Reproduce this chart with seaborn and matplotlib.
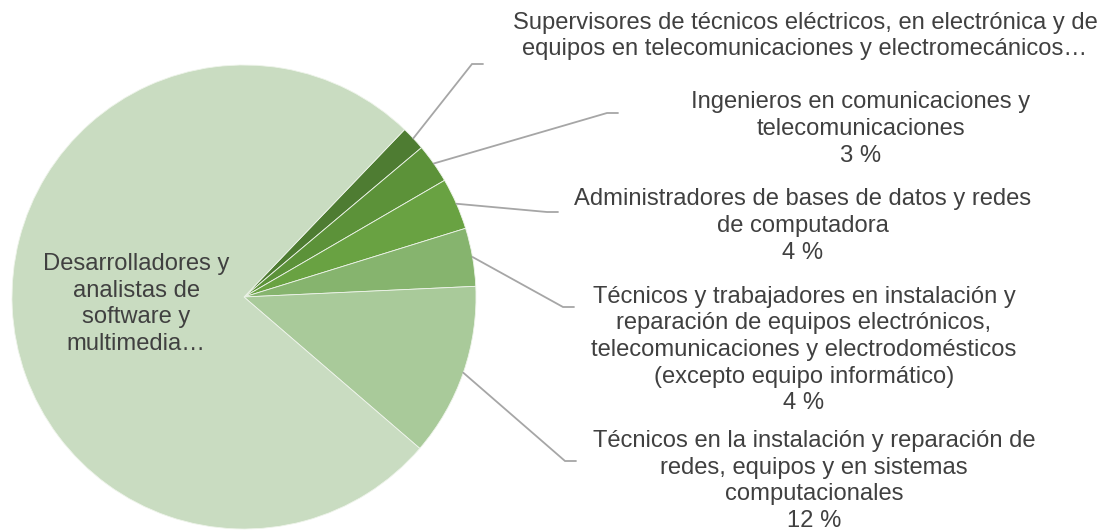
import numpy as np
import seaborn as sns
import matplotlib.pyplot as plt

# ================================
# Data
# ================================
categories = [
    "Supervisores de técnicos eléctricos, en electrónica y de\nequipos en telecomunicaciones y electromecánicos…",
    "Ingenieros en comunicaciones y\ntelecomunicaciones",
    "Administradores de bases de datos y redes\nde computadora",
    "Técnicos y trabajadores en instalación y\nreparación de equipos electrónicos,\ntelecomunicaciones y electrodomésticos\n(excepto equipo informático)",
    "Técnicos en la instalación y reparación de\nredes, equipos y en sistemas\ncomputacionales",
    "Desarrolladores y\nanalistas de\nsoftware y\nmultimedia…",
]
shares = [1.7, 2.75, 3.6, 4.05, 12.05, 75.85]
show_pct = [False, True, True, True, True, False]

colors = ["#4e7c32", "#5c9239", "#69a242", "#86b46e", "#a9ca9a", "#c9dcc1"]

# ================================
# Layout (pixel positions in the 1107x531 image)
# ================================
W, H = 1107, 531
CX, CY, R = 244, 297, 232          # pie centre and radius in pixels

# elbow of each leader line and the label centre, in pixels
elbows = [(472, 64), (607, 113), (547, 212), (563, 307), (565, 461), None]
label_xy = [(805, 36), (861, 129), (803, 226), (804, 350), (814, 481), (136, 304)]


def px(x, y):
    # pixel -> data units (pie radius = 1)
    return (x - CX) / R, (CY - y) / R


sns.set_theme(style="white")
plt.rcParams["font.family"] = ["Liberation Sans", "DejaVu Sans"]

fig = plt.figure(figsize=(W / 100, H / 100), dpi=100)
ax = fig.add_axes([0, 0, 1, 1])

wedges, _ = ax.pie(
    shares,
    colors=colors,
    startangle=46.2,
    counterclock=False,
    radius=1.0,
    center=(0, 0),
    wedgeprops=dict(edgecolor="#eef4ea", linewidth=0.6),
    frame=False,
)
ax.set_xlim(-CX / R, (W - CX) / R)
ax.set_ylim((CY - H) / R, CY / R)
ax.set_aspect("auto")
ax.axis("off")

text_color = "#404040"
line_color = "#a6a6a6"

for i, (w, lab) in enumerate(zip(wedges, categories)):
    txt = lab
    if show_pct[i]:
        txt = f"{lab}\n{round(shares[i])} %"
    tx, ty = px(*label_xy[i])
    ax.text(tx, ty, txt, ha="center", va="center", multialignment="center",
            fontsize=17.1, color=text_color, linespacing=1.27)

    if elbows[i] is None:
        continue
    mid = np.deg2rad((w.theta1 + w.theta2) / 2)
    sx, sy = np.cos(mid), np.sin(mid)
    ex, ey = px(*elbows[i])
    ax.plot([sx, ex, ex + 11 / R], [sy, ey, ey], color=line_color, lw=1.3,
            solid_joinstyle="miter")

plt.savefig("out.png", dpi=100)
